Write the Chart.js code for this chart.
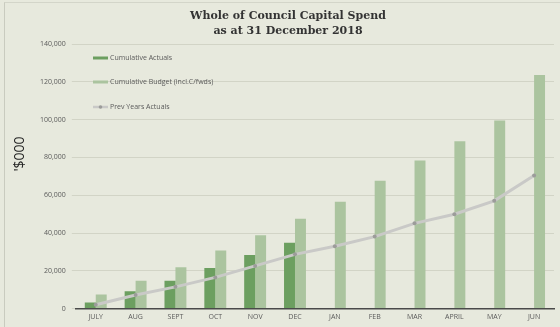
<!DOCTYPE html>
<html>
<head>
<meta charset="utf-8">
<script src="https://cdn.jsdelivr.net/npm/chart.js@4"></script>
<style>
  html, body { margin: 0; padding: 0; background: #e7e9dd; overflow: hidden; }
  #wrap {
    position: absolute; left: 4px; top: 2px;
    width: 560px; height: 330px;
    border-left: 1px solid #c9cbbf; border-top: 1px solid #d3d5c9;
  }
  #frame { position: absolute; left: 0; top: 0; width: 560px; height: 327px; }
</style>
</head>
<body>
<div id="wrap"></div>
<div id="frame"><canvas id="spend" width="560" height="327"></canvas></div>
<script>
// Whole of Council capital spend, cumulative $000 by month (Jul 2018 - Jun 2019)
const months = ['JULY', 'AUG', 'SEPT', 'OCT', 'NOV', 'DEC', 'JAN', 'FEB', 'MAR', 'APRIL', 'MAY', 'JUN'];
const cumActuals = [3200, 9200, 14800, 21500, 28400, 34900, null, null, null, null, null, null];
const cumBudget = [7400, 14800, 21900, 30700, 38800, 47500, 56600, 67700, 78300, 88500, 99500, 123600];
const prevYears = [2000, 7200, 11500, 16500, 22600, 28700, 33000, 38100, 45100, 49900, 57000, 70400];
const yTicks = [0, 20000, 40000, 60000, 80000, 100000, 120000, 140000];
const titleLines = ['Whole of Council Capital Spend', 'as at 31 December 2018'];

const colors = {
  actual: '#6c9f60',
  budget: '#abc49f',
  prevLine: '#c9c9c7',
  prevPoint: '#9c9c9a',
  grid: '#d2d4c6',
  text: '#5a5a5a'
};

// two-line slab-serif heading, sized so the first line is ~194px wide
const heading = {
  id: 'heading',
  afterDraw(chart) {
    const ctx = chart.ctx;
    const family = '"DejaVu Serif", serif';
    ctx.save();
    ctx.font = 'bold 12px ' + family;
    const size = 12 * 196 / ctx.measureText(titleLines[0]).width;
    ctx.font = 'bold ' + size.toFixed(2) + 'px ' + family;
    ctx.fillStyle = '#333333';
    ctx.textAlign = 'center';
    ctx.textBaseline = 'middle';
    ctx.fillText(titleLines[0], 288, 16);
    ctx.fillText(titleLines[1], 288, 31);
    ctx.restore();
  }
};

// legend drawn as a vertical list inside the plot area
const insetLegend = {
  id: 'insetLegend',
  afterDraw(chart) {
    const ctx = chart.ctx;
    const items = [
      { label: 'Cumulative Actuals', color: colors.actual, y: 58 },
      { label: 'Cumulative Budget (incl.C/fwds)', color: colors.budget, y: 82 },
      { label: 'Prev Years Actuals', color: colors.prevLine, y: 107, dot: true }
    ];
    ctx.save();
    ctx.font = '7px "Open Sans", sans-serif';
    ctx.textBaseline = 'middle';
    items.forEach(it => {
      ctx.strokeStyle = it.color;
      ctx.lineWidth = it.dot ? 2.5 : 3;
      ctx.beginPath();
      ctx.moveTo(93, it.y);
      ctx.lineTo(108, it.y);
      ctx.stroke();
      if (it.dot) {
        ctx.fillStyle = colors.prevPoint;
        ctx.beginPath();
        ctx.arc(100.5, it.y, 1.8, 0, Math.PI * 2);
        ctx.fill();
      }
      ctx.fillStyle = colors.text;
      ctx.fillText(it.label, 110, it.y);
    });
    ctx.restore();
  }
};

// rotated unit label on the left
const unitLabel = {
  id: 'unitLabel',
  afterDraw(chart) {
    const ctx = chart.ctx;
    ctx.save();
    ctx.translate(20, 154);
    ctx.rotate(-Math.PI / 2);
    ctx.font = '14px "Open Sans", sans-serif';
    ctx.fillStyle = '#222';
    ctx.textAlign = 'center';
    ctx.textBaseline = 'middle';
    ctx.fillText("'$000", 0, 0);
    ctx.restore();
  }
};

new Chart(document.getElementById('spend'), {
  type: 'bar',
  data: {
    labels: months,
    datasets: [
      {
        label: 'Cumulative Actuals',
        data: cumActuals,
        backgroundColor: colors.actual,
        categoryPercentage: 0.55,
        barPercentage: 1.0,
        order: 1
      },
      {
        label: 'Cumulative Budget (incl.C/fwds)',
        data: cumBudget,
        backgroundColor: colors.budget,
        categoryPercentage: 0.55,
        barPercentage: 1.0,
        order: 1
      },
      {
        type: 'line',
        label: 'Prev Years Actuals',
        data: prevYears,
        borderColor: colors.prevLine,
        borderWidth: 3,
        pointRadius: 2,
        pointBackgroundColor: colors.prevPoint,
        pointBorderWidth: 0,
        tension: 0,
        order: 0
      }
    ]
  },
  options: {
    responsive: false,
    animation: false,
    events: [],
    layout: { padding: { left: 34, right: 6, top: 44, bottom: 2 } },
    plugins: {
      legend: { display: false },
      tooltip: { enabled: false },
      title: { display: false }
    },
    scales: {
      x: {
        grid: { display: false, drawTicks: false },
        border: { color: '#4a4a4a', width: 1.5 },
        ticks: { color: colors.text, font: { family: '"Open Sans", sans-serif', size: 7 }, padding: 4 }
      },
      y: {
        min: 0,
        max: 140000,
        afterBuildTicks: axis => { axis.ticks = yTicks.map(v => ({ value: v })); },
        grid: { color: colors.grid, lineWidth: 1, tickLength: 4, drawTicks: true, tickColor: colors.grid },
        border: { display: false },
        ticks: {
          color: colors.text,
          font: { family: '"Open Sans", sans-serif', size: 7 },
          padding: 6,
          callback: v => v.toLocaleString('en-US')
        }
      }
    }
  },
  plugins: [heading, insetLegend, unitLabel]
});
</script>
</body>
</html>
